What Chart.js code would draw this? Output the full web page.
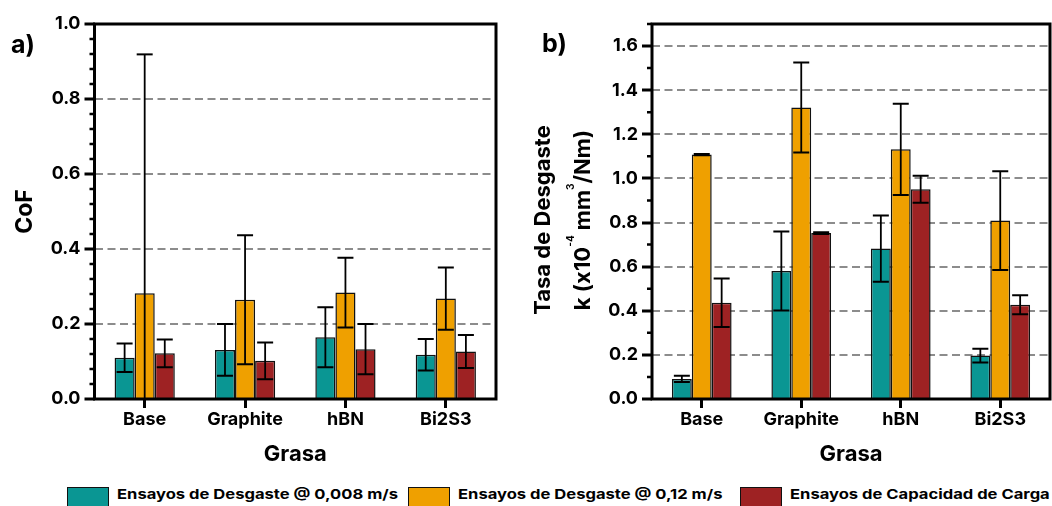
<!DOCTYPE html>
<html>
<head>
<meta charset="utf-8">
<script src="https://cdn.jsdelivr.net/npm/chart.js@4"></script>
<style>
  html, body { margin: 0; padding: 0; background: #fff; overflow: hidden; }
  #page { position: relative; width: 1052px; height: 506px; overflow: hidden; font-family: Inter, sans-serif; }
  #chartA { position: absolute; left: 0; top: 0; }
  #chartB { position: absolute; left: 520px; top: 0; }
  .lbox { position: absolute; top: 487px; width: 42px; height: 24px; border: 1.5px solid #111; box-sizing: border-box; }
  .ltxt { position: absolute; top: 487px; line-height: 15px; white-space: nowrap; font-weight: bold; font-size: 13.5px; color: #000; transform-origin: 0 50%; }
</style>
</head>
<body>
<div id="page">
  <canvas id="chartA" width="520" height="475"></canvas>
  <canvas id="chartB" width="532" height="475"></canvas>
  <div id="legend"></div>
</div>
<script>
// data
const categories = ["Base", "Graphite", "hBN", "Bi2S3"];
const seriesLabels = ["Ensayos de Desgaste @ 0,008 m/s", "Ensayos de Desgaste @ 0,12 m/s", "Ensayos de Capacidad de Carga"];
const colors = ["#0A9693", "#EFA000", "#9E2223"];

// a) CoF
const cofLow = [0.110, 0.131, 0.165, 0.118];
const cofLowErr = [0.038, 0.069, 0.080, 0.042];
const cofHigh = [0.282, 0.265, 0.284, 0.268];
const cofHighErr = [0.637, 0.172, 0.093, 0.083];
const cofLoad = [0.122, 0.102, 0.133, 0.127];
const cofLoadErr = [0.037, 0.049, 0.067, 0.044];

// b) wear rate k (x10^-4 mm3/Nm)
const wearLow = [0.091, 0.580, 0.682, 0.197];
const wearLowErr = [0.014, 0.179, 0.150, 0.031];
const wearHigh = [1.108, 1.322, 1.132, 0.809];
const wearHighErr = [0.003, 0.204, 0.207, 0.224];
const wearLoad = [0.436, 0.752, 0.951, 0.427];
const wearLoadErr = [0.110, 0.004, 0.061, 0.043];

Chart.defaults.font.family = "Inter, sans-serif";
Chart.defaults.font.weight = "bold";
Chart.defaults.color = "#000";

/* error bars, minor ticks, frame, panel letter */
const decor = {
    id: "decor",
    afterDatasetsDraw(chart) {
        const ctx = chart.ctx, y = chart.scales.y, area = chart.chartArea;
        ctx.save();
        ctx.strokeStyle = "#000";
        chart.data.datasets.forEach((ds, i) => {
            chart.getDatasetMeta(i).data.forEach((bar, j) => {
                const v = ds.data[j], e = ds.errors[j];
                const top = y.getPixelForValue(v + e);
                let bot = y.getPixelForValue(v - e);
                const clipped = bot > area.bottom;
                if (clipped) bot = area.bottom;
                ctx.lineWidth = 1.8;
                ctx.beginPath();
                ctx.moveTo(bar.x, top);
                ctx.lineTo(bar.x, bot);
                ctx.stroke();
                ctx.lineWidth = 2;
                ctx.beginPath();
                ctx.moveTo(bar.x - 8, top);
                ctx.lineTo(bar.x + 8, top);
                if (!clipped) {
                    ctx.moveTo(bar.x - 8, bot);
                    ctx.lineTo(bar.x + 8, bot);
                }
                ctx.stroke();
            });
        });
        ctx.restore();
    },
    afterDraw(chart, args, opts) {
        const ctx = chart.ctx, y = chart.scales.y, a = chart.chartArea;
        ctx.save();
        ctx.strokeStyle = "#000";
        ctx.lineWidth = 2.5;
        const n = Math.round((y.max - y.min) / opts.minorStep);
        ctx.beginPath();
        for (let k = 0; k <= n; k++) {
            const v = y.min + k * opts.minorStep;
            const r = v / opts.majorStep;
            if (Math.abs(r - Math.round(r)) < 1e-6) continue;
            const py = y.getPixelForValue(v);
            ctx.moveTo(a.left - 5, py);
            ctx.lineTo(a.left, py);
        }
        ctx.stroke();

        ctx.lineWidth = 3;
        ctx.strokeRect(a.left, a.top, a.right - a.left, a.bottom - a.top);

        ctx.fillStyle = "#000";
        ctx.textAlign = "left";
        ctx.textBaseline = "alphabetic";
        ctx.font = "bold 25px Inter";
        ctx.fillText(opts.panel, opts.panelX, opts.panelY);

        if (opts.rateTitle) drawRateTitle(ctx);
        ctx.restore();
    }
};

function drawRateTitle(ctx) {
    const big = "bold 22px Inter", small = "bold 10px Inter";
    ctx.save();
    ctx.translate(0, 220);
    ctx.rotate(-Math.PI / 2);
    ctx.textAlign = "center";
    ctx.font = big;
    ctx.fillText("Tasa de Desgaste", 0, 29.5);

    const parts = [
        ["k (x10", big, 0],
        ["-4", small, -16],
        [" mm", big, 0],
        ["3", small, -16],
        ["/Nm)", big, 0]
    ];
    let total = 0;
    parts.forEach(p => { ctx.font = p[1]; total += ctx.measureText(p[0]).width; });
    ctx.textAlign = "left";
    let x = -total / 2;
    parts.forEach(p => {
        ctx.font = p[1];
        ctx.fillText(p[0], x, 70 + p[2]);
        x += ctx.measureText(p[0]).width;
    });
    ctx.restore();
}

function barSet(i, data, errors) {
    return {
        label: seriesLabels[i],
        data: data,
        errors: errors,
        backgroundColor: colors[i],
        borderColor: "#111",
        borderWidth: 1.5,
        categoryPercentage: 0.6,
        barPercentage: 1
    };
}

function makeOptions(yMax, yWidth, padRight, title, decorOpts) {
    return {
        responsive: false,
        devicePixelRatio: 1,
        animation: false,
        layout: { padding: { left: 0, top: 24, right: padRight, bottom: 0 } },
        plugins: { legend: { display: false }, tooltip: { enabled: false }, decor: decorOpts },
        scales: {
            x: {
                afterFit: s => { s.height = 76; },
                grid: { drawOnChartArea: false, offset: false, tickLength: 9, tickWidth: 3, tickColor: "#000" },
                border: { display: false },
                ticks: { padding: 1, color: "#000", font: { size: 18, weight: "bold" } },
                title: { display: true, text: "Grasa", color: "#000", font: { size: 22, weight: "bold" }, padding: { top: 0, bottom: 7 } }
            },
            y: {
                min: 0,
                max: yMax,
                afterFit: s => { s.width = yWidth; },
                ticks: {
                    stepSize: 0.2,
                    includeBounds: false,
                    padding: 4,
                    color: "#000",
                    font: { size: 18, weight: "bold" },
                    callback: v => v.toFixed(1)
                },
                grid: {
                    color: c => (Math.abs(c.tick.value) < 1e-6 || Math.abs(c.tick.value - yMax) < 1e-6) ? "rgba(0,0,0,0)" : "#8c8c8c",
                    lineWidth: 2,
                    tickColor: "#000",
                    tickLength: 10,
                    tickWidth: 3
                },
                border: { display: false, dash: [8, 4.5] },
                title: title
            }
        }
    };
}

new Chart(document.getElementById("chartA"), {
    type: "bar",
    data: {
        labels: categories,
        datasets: [barSet(0, cofLow, cofLowErr), barSet(1, cofHigh, cofHighErr), barSet(2, cofLoad, cofLoadErr)]
    },
    options: makeOptions(1.0, 94.5, 24,
        { display: true, text: "CoF", color: "#000", font: { size: 23, weight: "bold" }, padding: { top: 11, bottom: 0 } },
        { minorStep: 0.04, majorStep: 0.2, panel: "a)", panelX: 11, panelY: 53 }),
    plugins: [decor]
});

new Chart(document.getElementById("chartB"), {
    type: "bar",
    data: {
        labels: categories,
        datasets: [barSet(0, wearLow, wearLowErr), barSet(1, wearHigh, wearHighErr), barSet(2, wearLoad, wearLoadErr)]
    },
    options: makeOptions(1.7, 132, 2,
        { display: false },
        { minorStep: 0.1, majorStep: 0.2, panel: "b)", panelX: 22, panelY: 52, rateTitle: true }),
    plugins: [decor]
});

/* shared legend under both panels */
const legendX = [67, 408, 740];
const legendEl = document.getElementById("legend");
const texts = [];
seriesLabels.forEach((label, i) => {
    const box = document.createElement("div");
    box.className = "lbox";
    box.style.left = legendX[i] + "px";
    box.style.background = colors[i];
    legendEl.appendChild(box);
    const t = document.createElement("div");
    t.className = "ltxt";
    t.style.left = (legendX[i] + 50) + "px";
    t.textContent = label;
    legendEl.appendChild(t);
    texts.push(t);
});
const stretch = 281 / texts[0].getBoundingClientRect().width;
texts.forEach(t => { t.style.transform = "scaleX(" + stretch + ")"; });
</script>
</body>
</html>
